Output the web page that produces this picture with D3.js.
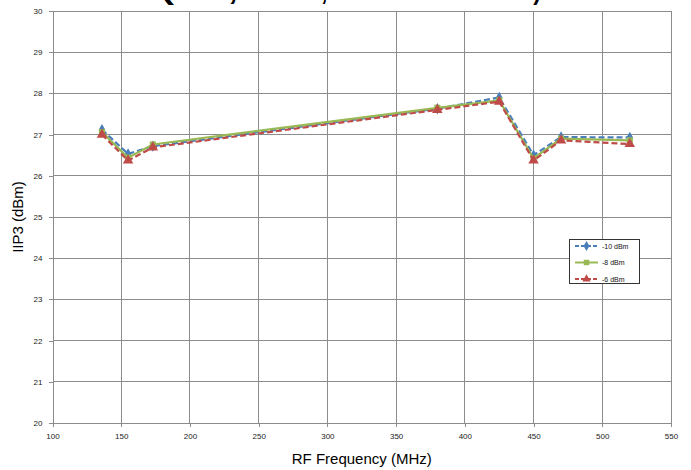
<!DOCTYPE html>
<html><head><meta charset="utf-8">
<script src="https://cdn.jsdelivr.net/npm/d3@7"></script>
<style>body{margin:0;background:#fff}svg{display:block}</style>
</head><body>
<svg id="c" width="691" height="470"></svg>
<script>
const freqs = [136, 155, 173, 380, 425, 450, 470, 520];
const seriesNames = ["-10 dBm", "-8 dBm", "-6 dBm"];
const iip3_m10 = [27.12, 26.53, 26.72, 27.63, 27.9, 26.5, 26.94, 26.93];
const iip3_m8  = [27.06, 26.44, 26.76, 27.65, 27.83, 26.42, 26.9, 26.86];
const iip3_m6  = [27.0, 26.37, 26.69, 27.6, 27.8, 26.37, 26.86, 26.77];
const xTicks = [100, 150, 200, 250, 300, 350, 400, 450, 500, 550];
const yTicks = [20, 21, 22, 23, 24, 25, 26, 27, 28, 29, 30];
const titleParts = ["(5 V", ", 25°C", ", 1 MHz Tone Offset)"];
const colors = ["#4a7ebb", "#98b954", "#be4b48"];
const dashes = ["6,3", null, "6,3"];
const symbols = [d3.symbolDiamond, d3.symbolSquare, d3.symbolTriangle];

const svg = d3.select("#c");
const x = d3.scaleLinear().domain([100, 550]).range([52.5, 671]);
const y = d3.scaleLinear().domain([20, 30]).range([423, 11]);
const grid = "#8c8c8c";

// grid
svg.append("g").selectAll("line").data(yTicks.slice(1)).join("line")
  .attr("x1", x(100)).attr("x2", x(550)).attr("y1", d => y(d)).attr("y2", d => y(d))
  .attr("stroke", grid).attr("stroke-width", 1).attr("shape-rendering", "crispEdges");
svg.append("g").selectAll("line").data(xTicks.slice(1)).join("line")
  .attr("y1", y(20)).attr("y2", y(30)).attr("x1", d => x(d)).attr("x2", d => x(d))
  .attr("stroke", grid).attr("stroke-width", 1).attr("shape-rendering", "crispEdges");

// axes
const xa = svg.append("g").attr("transform", `translate(0,${y(20)})`)
  .call(d3.axisBottom(x).tickValues(xTicks).tickSize(4).tickSizeOuter(0).tickPadding(6));
const ya = svg.append("g").attr("transform", `translate(${x(100)},0)`)
  .call(d3.axisLeft(y).tickValues(yTicks).tickSize(4).tickSizeOuter(0).tickPadding(6));
[xa, ya].forEach(a => {
  a.select(".domain").attr("stroke", grid).attr("shape-rendering", "crispEdges");
  a.selectAll(".tick line").attr("stroke", grid).attr("shape-rendering", "crispEdges");
  a.selectAll("text").attr("font-family", "Liberation Sans, Arial, sans-serif")
    .attr("font-size", 8).attr("fill", "#222");
});

// axis titles
svg.append("text").attr("x", x(325)).attr("y", 464).attr("text-anchor", "middle")
  .attr("font-family", "Liberation Sans, Arial, sans-serif").attr("font-size", 15)
  .text("RF Frequency (MHz)");
svg.append("text").attr("transform", `translate(23,${y(25)}) rotate(-90)`)
  .attr("text-anchor", "middle")
  .attr("font-family", "Liberation Sans, Arial, sans-serif").attr("font-size", 15)
  .text("IIP3 (dBm)");

// title (cut off at the top edge, only descenders visible)
const tt = svg.append("text").attr("y", -0.5)
  .attr("font-family", "Liberation Sans, Arial, sans-serif").attr("font-size", 26)
  .attr("font-weight", "bold");
const tx = [[161, 72], [228, 96], [321, 220]];
titleParts.forEach((t, i) => {
  tt.append("tspan").attr("x", tx[i][0]).attr("textLength", tx[i][1])
    .attr("lengthAdjust", "spacingAndGlyphs").text(t);
});

// series
const all = [iip3_m10, iip3_m8, iip3_m6];
const line = d3.line().x((d, i) => x(freqs[i])).y(d => y(d));
all.forEach((vals, s) => {
  const g = svg.append("g");
  g.append("path").datum(vals).attr("d", line).attr("fill", "none")
    .attr("stroke", colors[s]).attr("stroke-width", 2.2)
    .attr("stroke-dasharray", dashes[s]);
  g.selectAll("path.m").data(vals).join("path").attr("class", "m")
    .attr("transform", (d, i) => `translate(${x(freqs[i])},${y(d)})`)
    .attr("d", d3.symbol().type(symbols[s]).size(s === 2 ? 48 : 38))
    .attr("fill", colors[s]);
});

// legend
const lg = svg.append("g");
lg.append("rect").attr("x", 569.5).attr("y", 239.5).attr("width", 70).attr("height", 44)
  .attr("fill", "#fff").attr("stroke", "#333").attr("stroke-width", 1);
seriesNames.forEach((n, s) => {
  const ly = 246 + s * 16.5;
  lg.append("line").attr("x1", 575).attr("x2", 598).attr("y1", ly).attr("y2", ly)
    .attr("stroke", colors[s]).attr("stroke-width", 2).attr("stroke-dasharray", dashes[s] ? "4,2" : null);
  lg.append("path").attr("transform", `translate(586.5,${ly})`)
    .attr("d", d3.symbol().type(symbols[s]).size(30)).attr("fill", colors[s]);
  lg.append("text").attr("x", 602).attr("y", ly + 2.5)
    .attr("font-family", "Liberation Sans, Arial, sans-serif").attr("font-size", 7)
    .attr("fill", "#111").text(n);
});
</script>
</body></html>
